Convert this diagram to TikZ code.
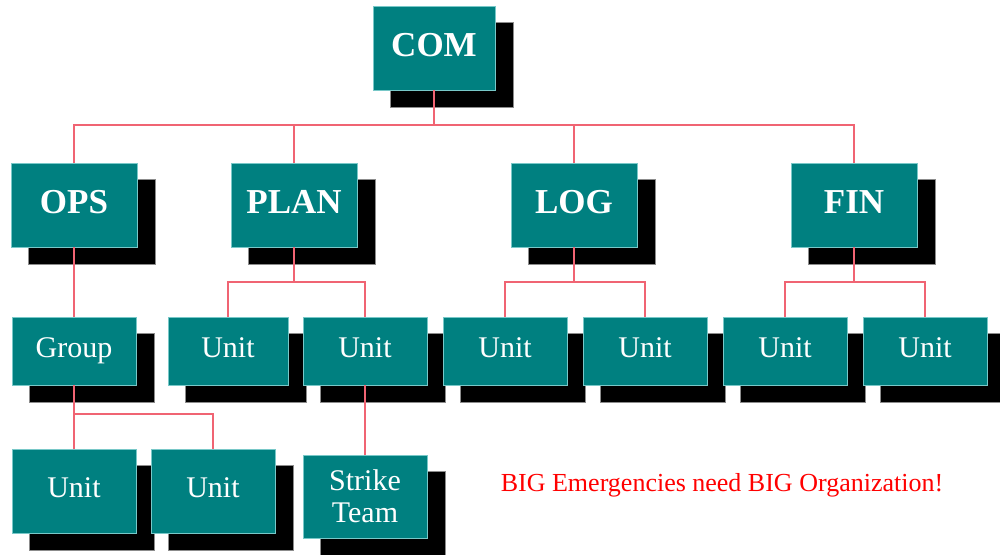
\documentclass[tikz,border=0pt]{standalone}
\usepackage{fontspec}
\setmainfont{Liberation Serif}
\usetikzlibrary{backgrounds}
\definecolor{boxteal}{RGB}{0,128,128}
\definecolor{boxedge}{RGB}{120,200,200}
\definecolor{linkred}{RGB}{240,100,115}
\definecolor{shadowedge}{RGB}{140,140,140}
\tikzset{
  orgbox/.style={fill=boxteal, draw=boxedge, line width=0.8pt, text=white, inner sep=0pt},
  bigbox/.style={orgbox, minimum width=126pt, minimum height=84pt,
    font=\bfseries\fontsize{35}{40}\selectfont, text height=23pt, text depth=6pt},
  smallbox/.style={orgbox, minimum width=124pt, minimum height=68pt,
    font=\fontsize{30}{32}\selectfont, text height=20pt, text depth=8pt},
  tallbox/.style={smallbox, minimum height=84pt},
  twolinebox/.style={orgbox, minimum width=124pt, minimum height=83pt, align=center,
    font=\fontsize{30}{32}\selectfont},
  link/.style={draw=linkred, line width=1.5pt},
  boxshadow/.style={fill=black, draw=shadowedge, line width=0.8pt},
}
\begin{document}
\begin{tikzpicture}[x=1pt,y=-1pt]
\useasboundingbox (0,0) rectangle (1000,554);
% level 1
\node[bigbox, minimum width=122pt] (com) at (434,48) {COM};
% level 2
\node[bigbox] (ops)  at (74,205)  {OPS};
\node[bigbox] (plan) at (294,205) {PLAN};
\node[bigbox] (log)  at (574,205) {LOG};
\node[bigbox] (fin)  at (854,205) {FIN};
% level 3
\node[smallbox] (grp) at (74,351) {Group};
\node[smallbox, minimum width=120pt] (u1) at (228,351) {Unit};
\node[smallbox] (u2) at (365,351) {Unit};
\node[smallbox] (ua) at (505,351) {Unit};
\node[smallbox] (ub) at (645,351) {Unit};
\node[smallbox] (uc) at (785,351) {Unit};
\node[smallbox] (ud) at (925,351) {Unit};
% level 4
\node[tallbox] (v1) at (74,491) {Unit};
\node[tallbox] (v2) at (213,491) {Unit};
\node[twolinebox] (st) at (365,496.5) {Strike\\Team};
% slogan
\node[text=red, font=\fontsize{26}{30}\selectfont, anchor=base, inner sep=0pt] (slogan) at (722,491) {BIG Emergencies need BIG Organization!};
% shadows
\begin{scope}[on background layer]
\foreach \n in {com,ops,plan,log,fin,grp,u1,u2,ua,ub,uc,ud,v1,v2,st}
  \filldraw[boxshadow] ([shift={(18,17)}]\n.south west) rectangle ([shift={(18,17)}]\n.north east);
\end{scope}
% bars
\coordinate (yb1) at (0,125);
\coordinate (yb2) at (0,282);
\coordinate (yb3) at (0,414);
% connectors
\draw[link] (com.south) -- (com.south |- yb1);
\draw[link] (ops.north) -- (ops.north |- yb1) -- (fin.north |- yb1) -- (fin.north);
\draw[link] (plan.north) -- (plan.north |- yb1);
\draw[link] (log.north) -- (log.north |- yb1);
\draw[link] (ops.south) -- (grp.north);
\draw[link] (plan.south) -- (plan.south |- yb2);
\draw[link] (u1.north) -- (u1.north |- yb2) -- (u2.north |- yb2) -- (u2.north);
\draw[link] (log.south) -- (log.south |- yb2);
\draw[link] (ua.north) -- (ua.north |- yb2) -- (ub.north |- yb2) -- (ub.north);
\draw[link] (fin.south) -- (fin.south |- yb2);
\draw[link] (uc.north) -- (uc.north |- yb2) -- (ud.north |- yb2) -- (ud.north);
\draw[link] (grp.south) -- (grp.south |- yb3);
\draw[link] (v1.north) -- (v1.north |- yb3) -- (v2.north |- yb3) -- (v2.north);
\draw[link] (u2.south) -- (st.north);
\end{tikzpicture}
\end{document}
